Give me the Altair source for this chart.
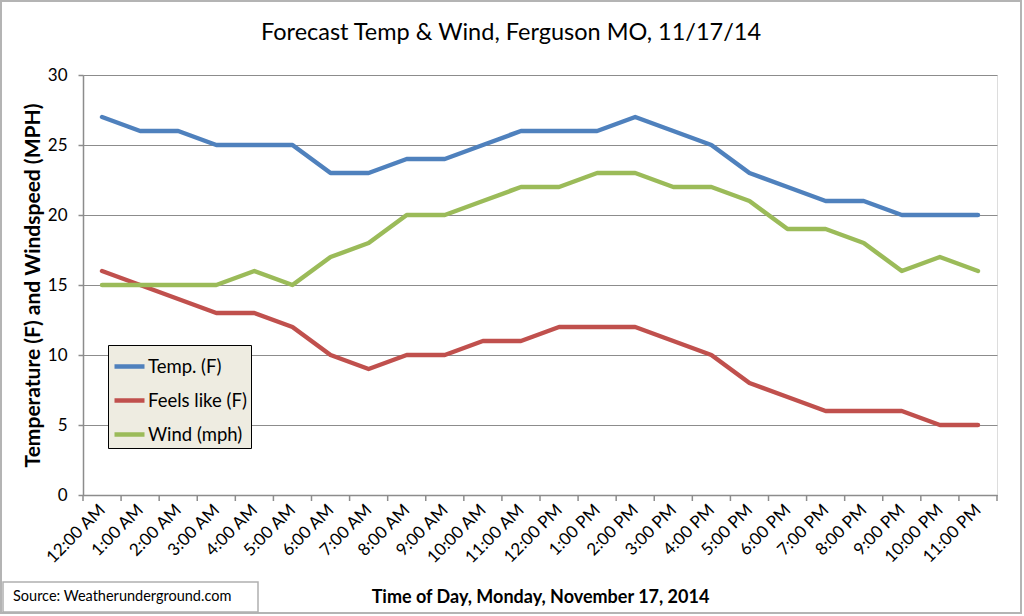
import altair as alt
import pandas as pd

hours = ["12:00 AM", "1:00 AM", "2:00 AM", "3:00 AM", "4:00 AM", "5:00 AM",
         "6:00 AM", "7:00 AM", "8:00 AM", "9:00 AM", "10:00 AM", "11:00 AM",
         "12:00 PM", "1:00 PM", "2:00 PM", "3:00 PM", "4:00 PM", "5:00 PM",
         "6:00 PM", "7:00 PM", "8:00 PM", "9:00 PM", "10:00 PM", "11:00 PM"]
temp = [27, 26, 26, 25, 25, 25, 23, 23, 24, 24, 25, 26, 26, 26, 27, 26, 25, 23, 22, 21, 21, 20, 20, 20]
feels = [16, 15, 14, 13, 13, 12, 10, 9, 10, 10, 11, 11, 12, 12, 12, 11, 10, 8, 7, 6, 6, 6, 5, 5]
wind = [15, 15, 15, 15, 16, 15, 17, 18, 20, 20, 21, 22, 22, 23, 23, 22, 22, 21, 19, 19, 18, 16, 17, 16]
series_names = ["Temp. (F)", "Feels like (F)", "Wind (mph)"]
series_colors = ["#4F81BD", "#C0504D", "#9BBB59"]
title_text = "Forecast Temp & Wind, Ferguson MO, 11/17/14"
source_text = "Source: Weatherunderground.com"

FONT = "Lato"
W, H = 914, 420
PL, PT = 83, 75

rows = []
for name, vals in zip(series_names, [temp, feels, wind]):
    for i, v in enumerate(vals):
        rows.append({"series": name, "idx": i, "hour": hours[i], "value": v})
df = pd.DataFrame(rows)

label_expr = "[" + ",".join("'" + h + "'" for h in hours) + "][datum.value]"

x_scale = alt.Scale(domain=[-0.5, len(hours) - 0.5], nice=False, zero=False)
y_scale = alt.Scale(domain=[0, 30], nice=False)

x_axis = alt.Axis(values=list(range(len(hours))), labelExpr=label_expr,
                  ticks=False, grid=False, domainColor="#8c8c8c", domainWidth=1.5,
                  labelAngle=-45, labelAlign="right", labelBaseline="middle",
                  labelPadding=12, labelFont=FONT, labelFontSize=17,
                  labelColor="#000000", labelOverlap=False, labelBound=False,
                  labelFlush=False,
                  title="Time of Day, Monday, November 17, 2014",
                  titleFont=FONT, titleFontSize=18, titleFontWeight="bold",
                  titleColor="#000000", titleY=102, titleBaseline="middle")

lines = alt.Chart(df).mark_line(strokeWidth=4.5, strokeCap="round", strokeJoin="round").encode(
    x=alt.X("idx:Q", scale=x_scale, axis=x_axis),
    y=alt.Y("value:Q", scale=y_scale,
            axis=alt.Axis(values=[0, 5, 10, 15, 20, 25, 30], grid=True, gridColor="#8c8c8c",
                          gridWidth=1.2, domainColor="#8c8c8c", domainWidth=1.5,
                          tickColor="#8c8c8c", tickSize=5, tickWidth=1.5,
                          labelFont=FONT, labelFontSize=17, labelColor="#000000", labelPadding=11,
                          title="Temperature (F) and Windspeed (MPH)",
                          titleFont=FONT, titleFontSize=21, titleFontWeight="bold",
                          titleColor="#000000", titleX=-50, titleBaseline="middle")),
    color=alt.Color("series:N", scale=alt.Scale(domain=series_names, range=series_colors),
                    legend=alt.Legend(title=None, orient="none", legendX=25, legendY=270,
                                      symbolType="stroke", symbolSize=900, symbolStrokeWidth=4.5,
                                      labelFont=FONT, labelFontSize=18.5, labelColor="#000000",
                                      fillColor="#EEECE1", strokeColor="#000000",
                                      padding=4, rowPadding=7, labelOffset=1)),
    order="idx:Q",
)

ticks_df = pd.DataFrame({"b": [i - 0.5 for i in range(len(hours) + 1)]})
ticks = alt.Chart(ticks_df).mark_rule(color="#8c8c8c", strokeWidth=1.5).encode(
    x=alt.X("b:Q", scale=x_scale, axis=x_axis),
    y=alt.value(H), y2=alt.value(H + 6),
)

border = alt.Chart(pd.DataFrame({"a": [0]})).mark_rect(
    fill=None, stroke="#b4b4b4", strokeWidth=2).encode(
    x=alt.value(1 - PL), x2=alt.value(1021 - PL),
    y=alt.value(1 - PT), y2=alt.value(613 - PT),
)

title = alt.Chart(pd.DataFrame({"t": [title_text]})).mark_text(
    align="center", baseline="middle", font=FONT, fontSize=23.5, color="#000000").encode(
    x=alt.value(511 - PL), y=alt.value(33 - PT), text="t:N",
)

src_df = pd.DataFrame({"t": [source_text]})
src_box = alt.Chart(src_df).mark_rect(fill="#ffffff", stroke="#b0b0b0", strokeWidth=1.5).encode(
    x=alt.value(3 - PL), x2=alt.value(258 - PL),
    y=alt.value(582 - PT), y2=alt.value(612 - PT),
)
src_text = alt.Chart(src_df).mark_text(align="left", baseline="middle", font=FONT,
                                       fontSize=14.5, color="#000000").encode(
    x=alt.value(13 - PL), y=alt.value(597 - PT), text="t:N",
)

chart = alt.layer(border, title, src_box, src_text, ticks, lines).properties(
    width=W, height=H,
    autosize=alt.AutoSizeParams(type="none"),
    padding={"left": PL, "top": PT, "right": 1024 - PL - W, "bottom": 616 - PT - H},
).configure_view(stroke=None).configure(background="#ffffff")

chart.save("out.html", embed_options={"renderer": "svg", "actions": False})
